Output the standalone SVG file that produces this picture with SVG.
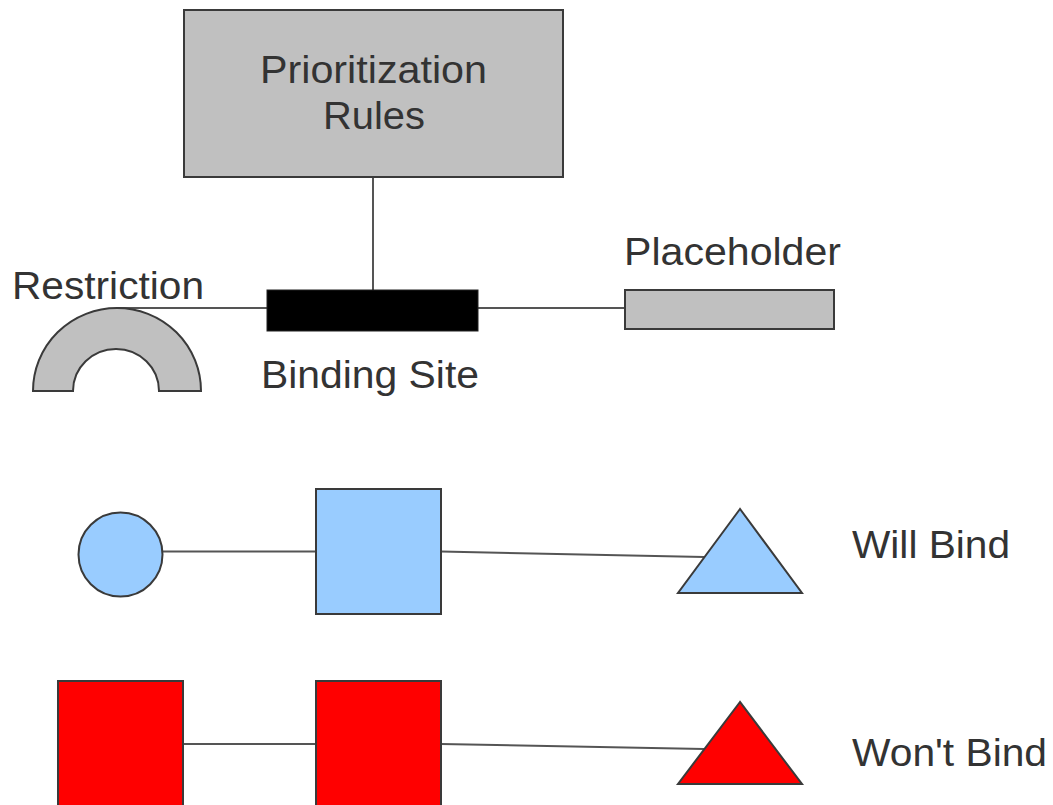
<svg xmlns="http://www.w3.org/2000/svg" width="1053" height="805" viewBox="0 0 1053 805">
<style>
text{font-family:"Liberation Sans",Arial,sans-serif;font-size:38px;fill:#333333}
.shape{stroke:#3a3a3a;stroke-width:2}
.gray{fill:#c0c0c0}
.blue{fill:#99ccff}
.red{fill:#ff0000}
.conn line{stroke:#555555;stroke-width:2}
</style>
<rect width="1053" height="805" fill="#ffffff"/>
<g class="conn" id="connectors">
<line x1="373" y1="177" x2="373" y2="291"/>
<line x1="118" y1="308" x2="625" y2="308"/>
<line x1="162" y1="551.5" x2="316" y2="551.5"/>
<line x1="441" y1="551.5" x2="704" y2="557"/>
<line x1="183" y1="744" x2="316" y2="744"/>
<line x1="441" y1="744" x2="704" y2="749"/>
</g>
<g id="prioritization">
<rect class="shape gray" x="184" y="10" width="379" height="167"/>
<text x="260" y="83" textLength="227" lengthAdjust="spacingAndGlyphs">Prioritization</text>
<text x="323" y="129" textLength="102" lengthAdjust="spacingAndGlyphs">Rules</text>
</g>
<g id="binding-site">
<rect x="267" y="290" width="211" height="41" fill="#000000" stroke="#222" stroke-width="1"/>
<text x="261" y="388" textLength="218" lengthAdjust="spacingAndGlyphs">Binding Site</text>
</g>
<g id="restriction">
<path class="shape gray" d="M33 391 A84 83 0 0 1 201 391 L159 391 A43 42 0 0 0 73 391 Z"/>
<text x="12" y="299" textLength="192" lengthAdjust="spacingAndGlyphs">Restriction</text>
</g>
<g id="placeholder">
<rect class="shape gray" x="625" y="290" width="209" height="39"/>
<text x="624" y="265" textLength="217" lengthAdjust="spacingAndGlyphs">Placeholder</text>
</g>
<g id="blue-circle"><circle class="shape blue" cx="120.5" cy="554.5" r="42"/></g>
<g id="blue-square"><rect class="shape blue" x="316" y="489" width="125" height="125"/></g>
<g id="blue-triangle"><polygon class="shape blue" points="740,509 678,593 802,593"/></g>
<g id="will-bind"><text x="852" y="558" textLength="158" lengthAdjust="spacingAndGlyphs">Will Bind</text></g>
<g id="red-square-1"><rect class="shape red" x="58" y="681" width="125" height="130"/></g>
<g id="red-square-2"><rect class="shape red" x="316" y="681" width="125" height="130"/></g>
<g id="red-triangle"><polygon class="shape red" points="740,702 678,784 802,784"/></g>
<g id="wont-bind"><text x="852" y="766" textLength="195" lengthAdjust="spacingAndGlyphs">Won't Bind</text></g>
</svg>
